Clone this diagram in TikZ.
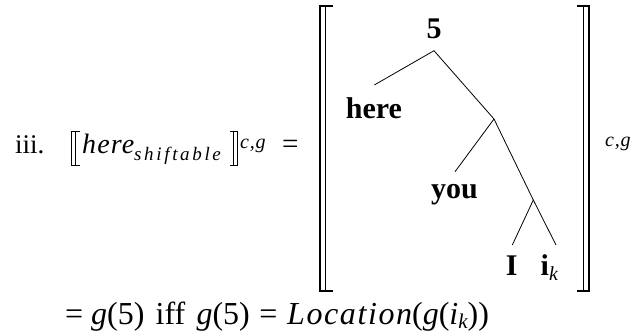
\documentclass[tikz,border=0pt]{standalone}
\usepackage{fontspec}
\setmainfont{Liberation Serif}
\newfontfamily\mifont{Liberation Serif}[LetterSpace=4]
\newfontfamily\mifontw{Liberation Serif}[LetterSpace=5]
\newfontfamily\subfont{Liberation Serif}[LetterSpace=14]
\newcommand\mv[1]{{\mifont\itshape #1}}
\newcommand\mw[1]{{\mifontw\itshape #1}}
\begin{document}
\begin{tikzpicture}[x=1pt,y=-1pt,
  main/.style={anchor=base west,inner sep=0pt,font=\fontsize{27}{30}\selectfont},
  lab/.style={anchor=base,inner sep=0pt,font=\fontsize{30}{33}\selectfont\bfseries},
  subscr/.style={anchor=base west,inner sep=0pt,font=\fontsize{19}{21}\selectfont\subfont\itshape},
  supscr/.style={anchor=base west,inner sep=0pt,font=\fontsize{20}{22}\selectfont\mifont\itshape},
  edge/.style={line width=0.8pt},
  smallbr/.style={line width=0.8pt},
  bigbr/.style={line width=2pt},
  bigbrin/.style={line width=1pt},
  ]
\useasboundingbox (0,0) rectangle (634,333);
% left-hand side
\node[main,font=\fontsize{27}{30}\selectfont] (num) at (15,153.5) {iii.};
\node[main,font=\fontsize{28}{30}\selectfont\mifont\itshape] (here) at (82,153.5) {here};
\node[subscr] (shift) at (134,160.5) {shiftable};
\node[supscr] (cg1) at (240,148) {c,g};
\node[main,font=\fontsize{29}{30}\selectfont] (eq1) at (282,153.5) {=};
\draw[smallbr] (80,131.7) -- (71,131.7) -- (71,165.7) -- (80,165.7);
\draw[smallbr] (75,131.7) -- (75,165.7);
\draw[smallbr] (230,131.7) -- (237,131.7) -- (237,165.7) -- (230,165.7);
\draw[smallbr] (233,131.7) -- (233,165.7);
% big brackets
\draw[bigbr] (333,6) -- (319.5,6) -- (319.5,291) -- (333,291);
\draw[bigbrin] (325.5,6) -- (325.5,291);
\draw[bigbr] (577,6) -- (589,6) -- (589,291) -- (577,291);
\draw[bigbrin] (583,6) -- (583,291);
\node[supscr] (cg2) at (605,146) {c,g};
% tree
\node[lab] (t5) at (434,38.3) {5};
\node[lab] (there) at (374,118.3) {here};
\node[lab] (tyou) at (454.5,198.3) {you};
\node[lab] (tI) at (511.7,275.7) {I};
\node[lab,anchor=base west] (tik) at (540.5,275.7) {i\raisebox{-5pt}{\fontsize{20}{22}\selectfont\mdseries\mv{k}}};
\coordinate (b0) at ([yshift=-12.4pt]t5.base);
\coordinate (b1) at (494,119);
\coordinate (b2) at (533.3,200);
\coordinate (ehere) at ([xshift=0.3pt,yshift=33.3pt]there.base);
\coordinate (eyou) at ([xshift=0.5pt,yshift=26.6pt]tyou.base);
\coordinate (eI) at ([xshift=0.6pt,yshift=30.7pt]tI.base);
\coordinate (eik) at ([xshift=15.5pt,yshift=30.7pt]tik.base west);
\draw[edge] (ehere) -- (b0) -- (b1) -- (b2) -- (eik);
\draw[edge] (b1) -- (eyou);
\draw[edge] (b2) -- (eI);
% result line
\node[main,font=\fontsize{32}{34}\selectfont] (res) at (65,324) {=\hspace{0.25em}\mw{g}(5)\hspace{0.35em}iff\hspace{0.35em}\mw{g}(5)\hspace{0.3em}=\hspace{0.3em}\mw{Location}(\mw{g}(\mw{i}\raisebox{-4pt}{\fontsize{21}{22}\selectfont\mw{k}}))};
\end{tikzpicture}
\end{document}
